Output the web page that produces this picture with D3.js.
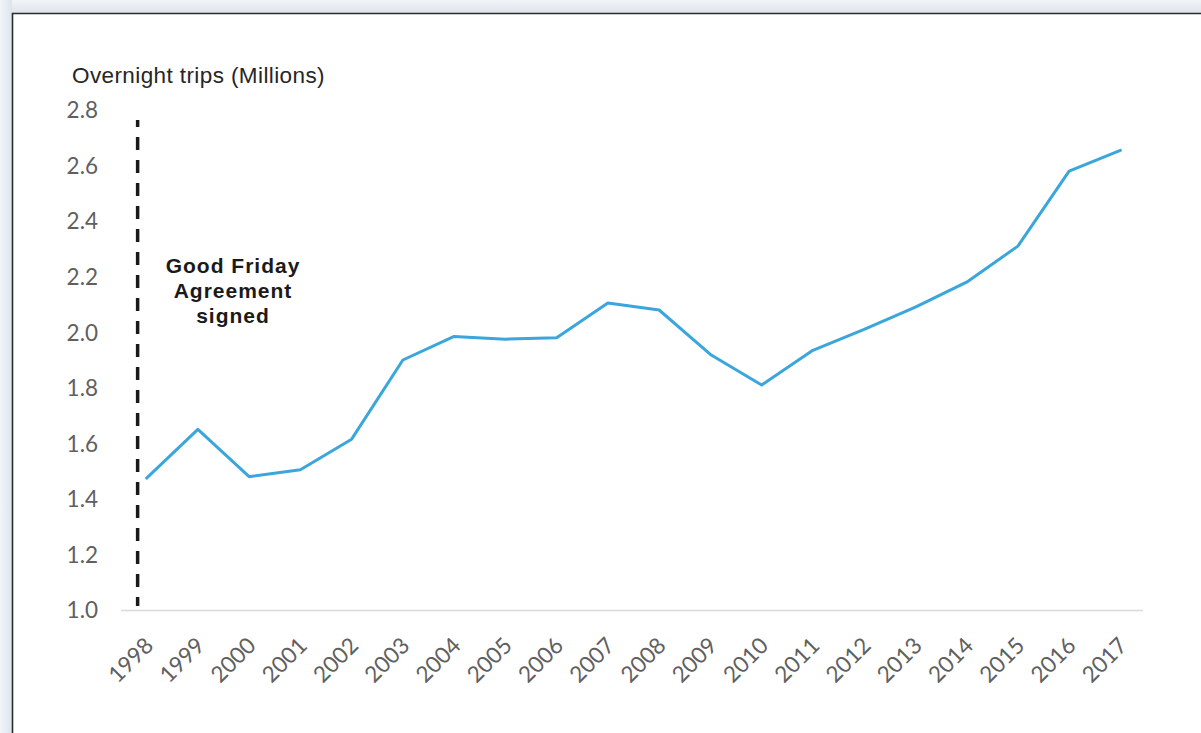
<!DOCTYPE html>
<html>
<head>
<meta charset="utf-8">
<script src="https://cdn.jsdelivr.net/npm/d3@7"></script>
<style>
  html, body { margin: 0; padding: 0; background: #ffffff; }
  svg { display: block; }
</style>
</head>
<body>
<svg id="chart" width="1201" height="733"></svg>
<script>
const years = ["1998","1999","2000","2001","2002","2003","2004","2005","2006","2007",
               "2008","2009","2010","2011","2012","2013","2014","2015","2016","2017"];
const trips = [1.475, 1.65, 1.48, 1.505, 1.615, 1.90, 1.985, 1.975, 1.98, 2.105,
               2.08, 1.92, 1.81, 1.935, 2.01, 2.09, 2.18, 2.31, 2.58, 2.655];
const yTicks = [1.0, 1.2, 1.4, 1.6, 1.8, 2.0, 2.2, 2.4, 2.6, 2.8];
const yTitle = "Overnight trips (Millions)";
const eventYear = "1998";
const annotationLines = ["Good Friday", "Agreement", "signed"];

const svg = d3.select("#chart");

// outer page backdrop with frame
const defs = svg.append("defs");
const gTop = defs.append("linearGradient").attr("id", "gtop").attr("x1", 0).attr("x2", 0).attr("y1", 0).attr("y2", 1);
gTop.append("stop").attr("offset", "0%").attr("stop-color", "#f1f4f7");
gTop.append("stop").attr("offset", "100%").attr("stop-color", "#dfe4ea");
const gLeft = defs.append("linearGradient").attr("id", "gleft").attr("x1", 0).attr("x2", 1).attr("y1", 0).attr("y2", 0);
gLeft.append("stop").attr("offset", "0%").attr("stop-color", "#f1f5f9");
gLeft.append("stop").attr("offset", "100%").attr("stop-color", "#dde4ec");

svg.append("rect").attr("x", 0).attr("y", 0).attr("width", 1201).attr("height", 13).attr("fill", "url(#gtop)");
svg.append("rect").attr("x", 0).attr("y", 0).attr("width", 12).attr("height", 733).attr("fill", "url(#gleft)");
svg.append("rect").attr("x", 12).attr("y", 13).attr("width", 1195).attr("height", 730)
  .attr("fill", "#ffffff");
svg.append("path").attr("d", "M12.5,740 V13.5 H1201")
  .attr("fill", "none").attr("stroke", "#2b2b2b").attr("stroke-width", 1.6);

// scales
const x = d3.scaleBand().domain(years).range([121, 1146]).padding(0);
const xc = d => x(d) + x.bandwidth() / 2;
const y = d3.scaleLinear().domain([1.0, 2.8]).range([610, 110]);

// y axis (no line, no ticks)
const yAxis = d3.axisLeft(y).tickValues(yTicks).tickFormat(d3.format(".1f")).tickSize(0).tickPadding(0);
const yg = svg.append("g").attr("transform", "translate(98,0)").call(yAxis);
yg.select(".domain").remove();
yg.selectAll("text")
  .attr("font-family", "Lato, 'Open Sans', sans-serif")
  .attr("font-size", 22.5)
  .attr("fill", "#606060")
  .attr("dy", "0.35em");

// x axis
const xAxis = d3.axisBottom(x).tickSize(0).tickPadding(0);
const xg = svg.append("g").attr("transform", "translate(0,610)").call(xAxis);
xg.select(".domain").attr("stroke", "#d9d9d9").attr("stroke-width", 1.5)
  .attr("d", `M121,0.5H1143`);
xg.selectAll(".tick text")
  .attr("font-family", "Lato, 'Open Sans', sans-serif")
  .attr("font-size", 22.5)
  .attr("fill", "#606060")
  .attr("text-anchor", "end")
  .attr("dy", null)
  .attr("y", 0)
  .attr("transform", "translate(8,37) rotate(-45)");

// y title
svg.append("text")
  .attr("x", 72).attr("y", 83)
  .attr("font-family", "'Liberation Sans', Arial, sans-serif")
  .attr("font-size", 22.5)
  .attr("letter-spacing", 0.4)
  .attr("fill", "#262626")
  .text(yTitle);

// event dashed line
svg.append("line")
  .attr("x1", xc(eventYear) - 9).attr("x2", xc(eventYear) - 9)
  .attr("y1", 120).attr("y2", y(1.0) - 4)
  .attr("stroke", "#1a1a1a").attr("stroke-width", 3.5)
  .attr("stroke-dasharray", "13,10")
  .attr("stroke-dashoffset", 6);

// annotation
const ann = svg.append("text")
  .attr("font-family", "'Liberation Sans', Arial, sans-serif")
  .attr("font-weight", "bold")
  .attr("font-size", 21)
  .attr("letter-spacing", 1)
  .attr("fill", "#1a1a1a")
  .attr("text-anchor", "middle");
annotationLines.forEach((t, i) => {
  ann.append("tspan").attr("x", 233).attr("y", 273 + i * 25).text(t);
});

// line series
const line = d3.line().x((d, i) => xc(years[i])).y(d => y(d));
svg.append("path")
  .datum(trips)
  .attr("d", line)
  .attr("fill", "none")
  .attr("stroke", "#3aa6dc")
  .attr("stroke-width", 3)
  .attr("stroke-linejoin", "round")
  .attr("stroke-linecap", "round");
</script>
</body>
</html>
